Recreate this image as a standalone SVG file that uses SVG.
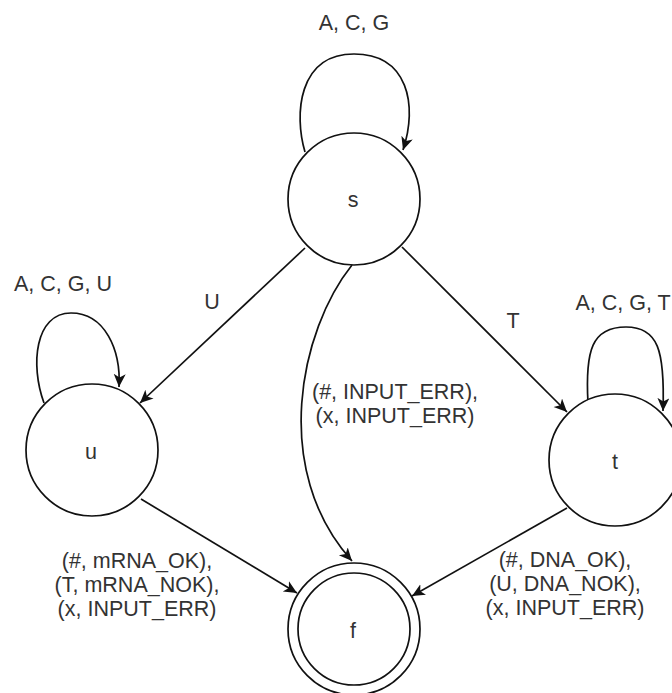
<svg xmlns="http://www.w3.org/2000/svg" width="672" height="693" viewBox="0 0 672 693">
  <style>
    .state { fill: #fff; stroke: #111; stroke-width: 1.7; }
    .edge { fill: none; stroke: #111; stroke-width: 1.7; marker-end: url(#arrow); }
    text { font-family: "Liberation Sans", Arial, sans-serif; font-size: 21.5px; fill: #333; text-anchor: middle; }
  </style>
  <defs>
    <marker id="arrow" markerUnits="userSpaceOnUse" markerWidth="16" markerHeight="14" refX="13" refY="6" orient="auto">
      <path d="M0,0 L13,6 L0,12 L3.5,6 Z" fill="#111"/>
    </marker>
  </defs>
  <rect width="672" height="693" fill="#fff"/>

  <g id="connectors">
    <!-- self loops -->
    <path class="edge" d="M305,152 C294,115 298,54 354,54 C408,54 418,105 403,150"/>
    <path class="edge" d="M44,403 C30,365 35,313 71,313 C105,313 121,350 119,387"/>
    <path class="edge" d="M588,403 C585,350 592,327 626,327 C658,327 665,350 663,411"/>
    <!-- transitions -->
    <path class="edge" d="M305,248 L140,403"/>
    <path class="edge" d="M402,247 L567,412"/>
    <path class="edge" d="M352,265 C300,330 270,470 352,561"/>
    <path class="edge" d="M141,499 L297,593"/>
    <path class="edge" d="M567,508 L412,596"/>
    <!-- transition labels -->
    <text x="354" y="30">A, C, G</text>
    <text x="63" y="291">A, C, G, U</text>
    <text x="623" y="310">A, C, G, T</text>
    <text x="212" y="309">U</text>
    <text x="513" y="328">T</text>
    <text x="395" y="399">(#, INPUT_ERR),</text>
    <text x="395" y="423">(x, INPUT_ERR)</text>
    <text x="137" y="568">(#, mRNA_OK),</text>
    <text x="137" y="592">(T, mRNA_NOK),</text>
    <text x="137" y="616">(x, INPUT_ERR)</text>
    <text x="565" y="567">(#, DNA_OK),</text>
    <text x="565" y="591">(U, DNA_NOK),</text>
    <text x="565" y="615">(x, INPUT_ERR)</text>
  </g>

  <g id="node-s">
    <circle class="state" cx="354" cy="199" r="66"/>
    <text x="353" y="207">s</text>
  </g>
  <g id="node-u">
    <circle class="state" cx="92" cy="450" r="66"/>
    <text x="91" y="459">u</text>
  </g>
  <g id="node-t">
    <circle class="state" cx="615" cy="460" r="66"/>
    <text x="615" y="469">t</text>
  </g>
  <g id="node-f">
    <circle class="state" cx="354" cy="629" r="66"/>
    <circle class="state" cx="354" cy="629" r="56"/>
    <text x="353" y="638">f</text>
  </g>
</svg>
